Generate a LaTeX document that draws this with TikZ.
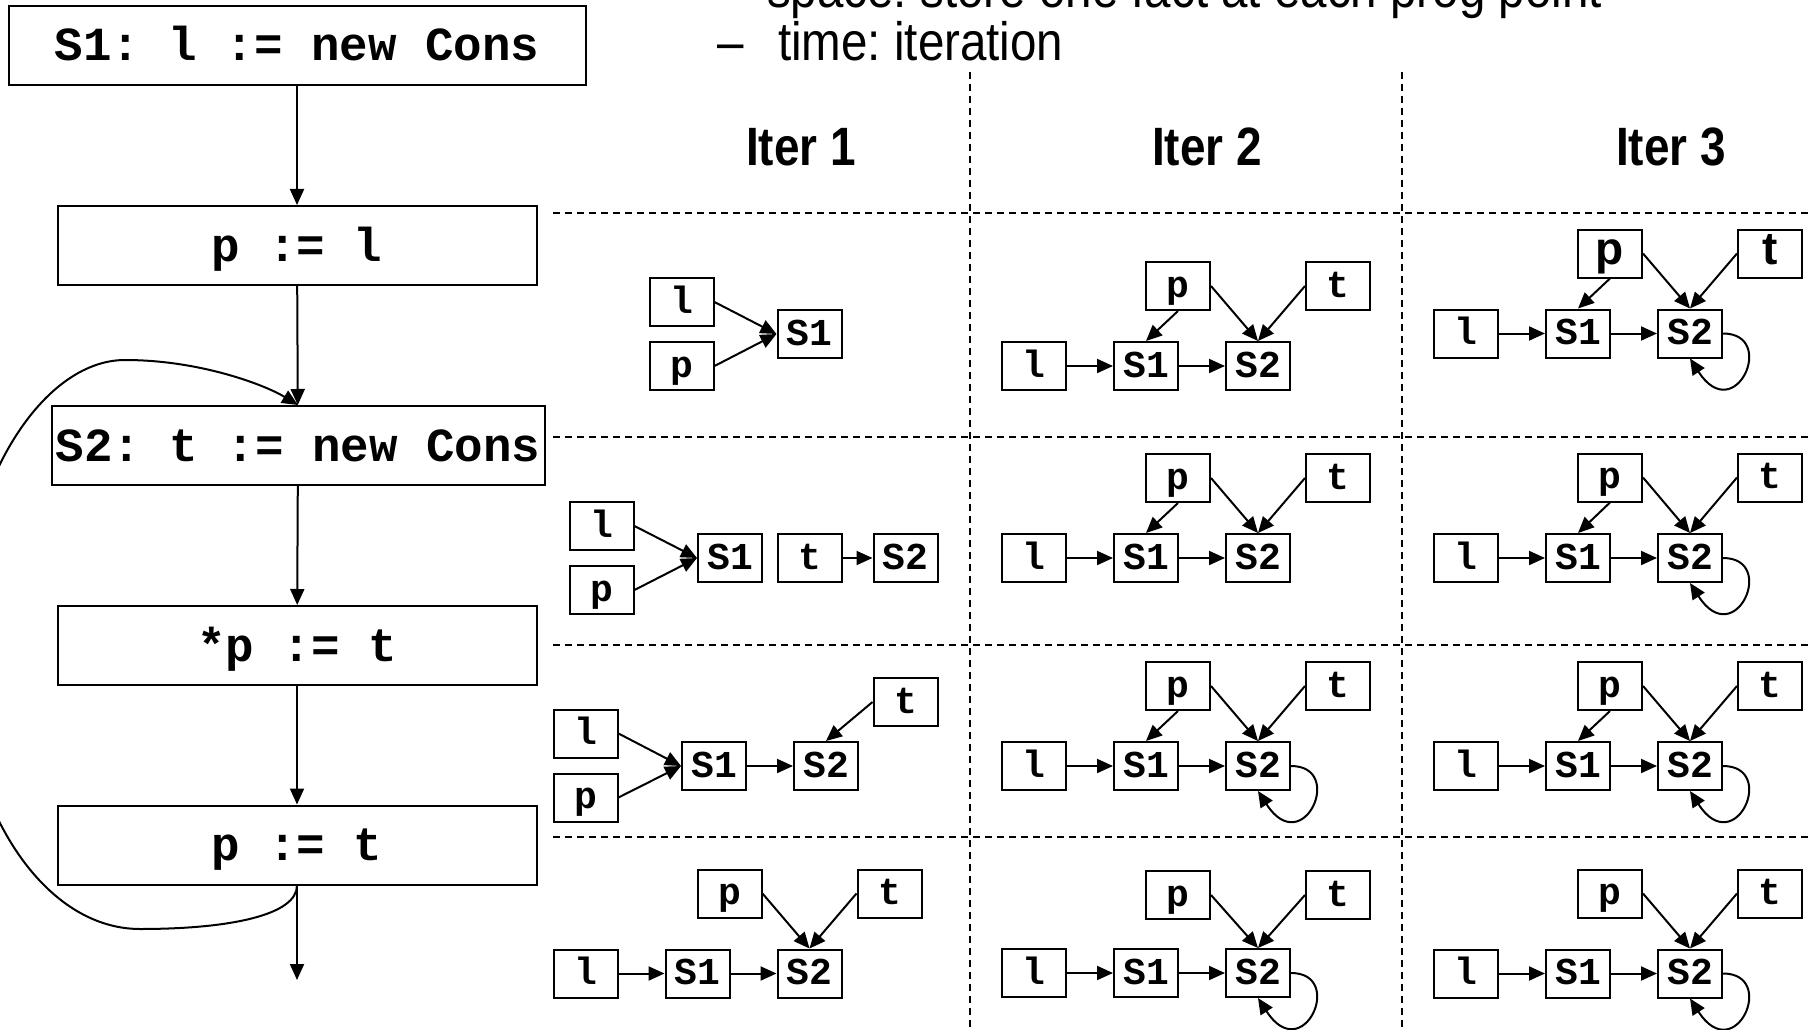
\documentclass[tikz,border=0pt]{standalone}
\usepackage{fontspec}
\usepackage{graphicx}
\newfontfamily\monof{Liberation Mono}
\newfontfamily\sansf{Liberation Sans}
\usetikzlibrary{arrows.meta}
\newcommand{\basegraph}[5]{%
  \node[sb] (#1l) at (#2,#3) {l};
  \node[sb] (#1a) at (#2+112,#3) {S1};
  \node[sb] (#1b) at (#2+224,#3) {S2};
  \node[sb,#5] (#1p) at (#2+144,#4) {p};
  \node[sb,#5] (#1t) at (#2+304,#4) {t};
  \draw[arr] (#1l) -- (#1a);
  \draw[arr] (#1a) -- (#1b);
  \draw[arr] (#1p.east) -- (#1b.north);
  \draw[arr] (#1t.west) -- (#1b.north);
}
\newcommand{\ptoone}[1]{\draw[arr] (#1p.south) -- (#1a.north);}
\newcommand{\selfloop}[1]{\draw[arr] (#1b.east) .. controls +(55,0) and +(45,70) .. (#1b.south);}
\begin{document}
\frenchspacing
\begin{tikzpicture}[x=1pt,y=-1pt,
  flow/.style={draw, line width=2pt, minimum height=79pt, inner sep=0pt,
    text height=55pt, text depth=24pt, font=\monof\bfseries\fontsize{47.5}{50}\selectfont},
  sb/.style={draw, line width=2pt, minimum width=64pt, minimum height=48pt, inner sep=0pt,
    text height=35pt, text depth=13pt, font=\monof\bfseries\fontsize{38}{40}\selectfont},
  sansbox/.style={font=\sansf\bfseries\fontsize{46}{48}\selectfont},
  arr/.style={line width=2pt, -{Triangle[length=16pt,width=14pt]}},
  gridline/.style={line width=1.6pt, dash pattern=on 7pt off 5pt},
  hdr/.style={font=\sansf\bfseries\fontsize{54}{56}\selectfont, anchor=base, inner sep=0pt},
  txt/.style={font=\sansf\fontsize{54}{56}\selectfont, anchor=base west, inner sep=0pt}
]
\useasboundingbox (0,0) rectangle (1808,1030);
\clip (0,0) rectangle (1808,1030);

% header text
\node[txt] (line1) at (767,8) {\scalebox{0.88}[1]{space: store one fact at each prog point}};
\node[txt] (dash) at (717,61) {\scalebox{0.88}[1]{–}};
\node[txt] (line2) at (778,61) {\scalebox{0.88}[1]{time: iteration}};

\node[hdr] (h1) at (801,165) {\scalebox{0.85}[1]{Iter 1}};
\node[hdr] (h2) at (1207,165) {\scalebox{0.85}[1]{Iter 2}};
\node[hdr] (h3) at (1671,165) {\scalebox{0.85}[1]{Iter 3}};

% grid
\draw[gridline] (970,72) -- (970,1030);
\draw[gridline] (1402,72) -- (1402,1030);
\foreach \yy in {213,437,645,837} \draw[gridline] (553,\yy) -- (1808,\yy);

% flow chart
\node[flow, minimum width=577pt] (b1) at (297,45.5) {S1: l := new Cons};
\node[flow, minimum width=479pt] (b2) at (297,245.5) {p := l};
\node[flow, minimum width=493pt] (b3) at (298,445.5) {S2: t := new Cons};
\node[flow, minimum width=479pt] (b4) at (297,645.5) {*p := t};
\node[flow, minimum width=479pt] (b5) at (297,845) {p := t};
\coordinate (fend) at (297,980);
\draw[arr] (b1) -- (b2);
\draw[arr] (b2) -- (b3);
\draw[arr] (b3) -- (b4);
\draw[arr] (b4) -- (b5);
\draw[arr] (b5) -- (fend);
\draw[arr] (b5.south) .. controls (297,915) and (230,929) .. (140,929)
  .. controls (40,929) and (-40,800) .. (-40,645)
  .. controls (-40,490) and (40,360) .. (125,360)
  .. controls (200,360) and (265,385) .. (b3.north);

% Iter 1 row 1
\node[sb] (aal) at (681.5,302) {l};
\node[sb] (aap) at (681.5,366) {p};
\node[sb] (aaa) at (809.5,334) {S1};
\draw[arr] (aal.east) -- (aaa.west);
\draw[arr] (aap.east) -- (aaa.west);

% Iter 1 row 2
\node[sb] (abl) at (601.5,526) {l};
\node[sb] (abp) at (601.5,590) {p};
\node[sb] (aba) at (730,558) {S1};
\node[sb] (abt) at (810,558) {t};
\node[sb] (abb) at (905.5,558) {S2};
\draw[arr] (abl.east) -- (aba.west);
\draw[arr] (abp.east) -- (aba.west);
\draw[arr] (abt) -- (abb);

% Iter 1 row 3
\node[sb] (acl) at (585.5,733.5) {l};
\node[sb] (acp) at (585.5,797.5) {p};
\node[sb] (aca) at (714,766) {S1};
\node[sb] (acb) at (826,766) {S2};
\node[sb] (act) at (905.5,702) {t};
\draw[arr] (acl.east) -- (aca.west);
\draw[arr] (acp.east) -- (aca.west);
\draw[arr] (aca) -- (acb);
\draw[arr] (act.west) -- (acb.north);

% Iter 1 row 4
\basegraph{ad}{585.5}{973.5}{893.5}{}

% Iter 2 and 3
\basegraph{ra}{1034}{366}{286}{} \ptoone{ra}
\basegraph{rb}{1466}{333.5}{253.5}{sansbox} \ptoone{rb} \selfloop{rb}
\basegraph{rc}{1034}{558}{478}{} \ptoone{rc}
\basegraph{rd}{1466}{558}{477.5}{} \ptoone{rd} \selfloop{rd}
\basegraph{re}{1034}{766}{686}{} \ptoone{re} \selfloop{re}
\basegraph{rf}{1466}{766}{686}{} \ptoone{rf} \selfloop{rf}
\basegraph{rh}{1034}{973}{895}{} \selfloop{rh}
\basegraph{ri}{1466}{973.5}{893.5}{} \selfloop{ri}
\end{tikzpicture}
\end{document}
